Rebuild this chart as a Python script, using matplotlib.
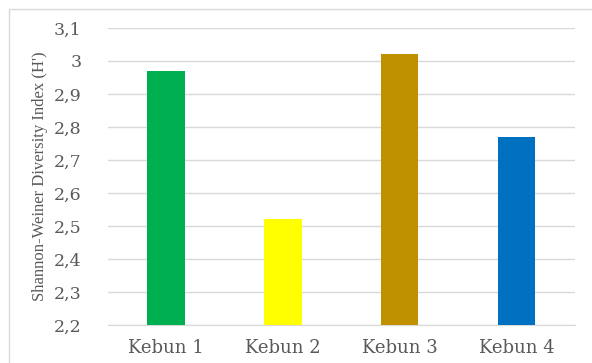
import matplotlib.pyplot as plt
from matplotlib.patches import Rectangle

kebun = ["Kebun 1", "Kebun 2", "Kebun 3", "Kebun 4"]
nilai_h = [2.97, 2.52, 3.02, 2.77]
warna = ["#00B050", "#FFFF00", "#BF9000", "#0070C0"]
yticks = [2.2, 2.3, 2.4, 2.5, 2.6, 2.7, 2.8, 2.9, 3.0, 3.1]

plt.rcParams["font.family"] = ["DejaVu Serif"]

fig = plt.figure(figsize=(5.92, 3.63), dpi=100)
ax = fig.add_axes([0.182, 0.105, 0.789, 0.818])

# kader luar
fig.patches.append(Rectangle((9 / 592, -0.01), 1.0, 1 - 9 / 363 + 0.01,
                             transform=fig.transFigure, fill=False,
                             edgecolor="#d9d9d9", linewidth=1))

x = range(len(kebun))
ax.bar(x, nilai_h, width=0.32, color=warna, bottom=0, zorder=3)
ax.set_ylim(2.2, 3.1)
ax.set_xlim(-0.5, 3.5)
ax.set_yticks(yticks)
ax.set_yticklabels([f"{v:g}".replace(".", ",") for v in yticks])
ax.set_xticks(list(x))
ax.set_xticklabels(kebun)
ax.grid(axis="y", color="#d9d9d9", linewidth=1, zorder=0)
for s in ["top", "right", "left"]:
    ax.spines[s].set_visible(False)
ax.spines["bottom"].set_color("#d9d9d9")
ax.tick_params(axis="both", length=0, colors="#595959", labelsize=12.5)
ax.tick_params(axis="x", pad=10, labelsize=13)
ax.tick_params(axis="y", pad=19)
ax.set_ylabel("Shannon-Weiner Diversity Index (H')", color="#595959",
              fontsize=12, family="Liberation Serif", labelpad=4)

fig.savefig("out.png", dpi=100)
